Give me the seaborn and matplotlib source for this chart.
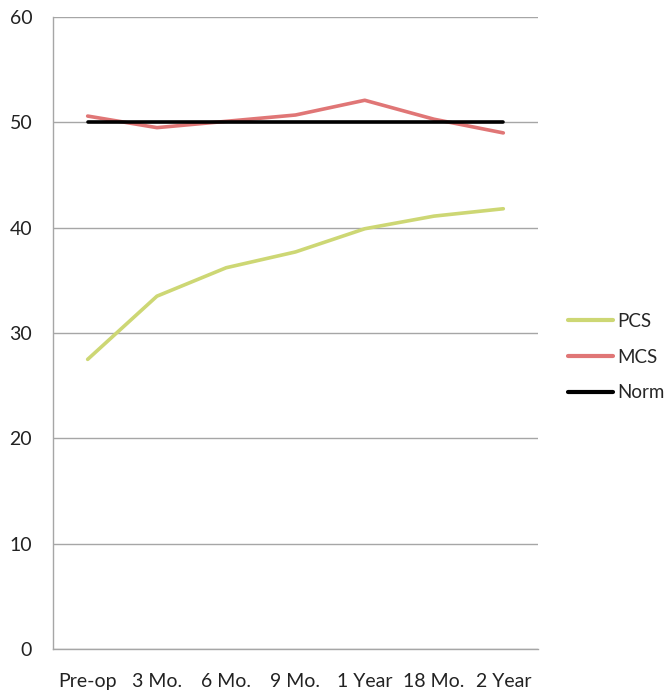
import matplotlib
matplotlib.use("Agg")
import matplotlib.pyplot as plt
import seaborn as sns
import pandas as pd
import numpy as np

# chart values
timepoints = ['Pre-op', '3 Mo.', '6 Mo.', '9 Mo.', '1 Year', '18 Mo.', '2 Year']
pcs = [27.5, 33.5, 36.2, 37.7, 39.9, 41.1, 41.8]
mcs = [50.6, 49.5, 50.1, 50.7, 52.1, 50.3, 49.0]
norm = [50, 50, 50, 50, 50, 50, 50]
series_names = ['PCS', 'MCS', 'Norm']
colors = {'PCS': '#cdd774', 'MCS': '#e07676', 'Norm': '#000000'}

df = pd.DataFrame({
    'time': timepoints * 3,
    'score': pcs + mcs + norm,
    'series': ['PCS'] * 7 + ['MCS'] * 7 + ['Norm'] * 7,
})
df['pos'] = df['time'].map({t: i for i, t in enumerate(timepoints)})

sns.set_style('white')
plt.rcParams['font.family'] = ['Lato', 'DejaVu Sans']

fig = plt.figure(figsize=(6.67, 6.96), dpi=100)
ax = fig.add_axes([0.0795, 0.0675, 0.727, 0.908])

sns.lineplot(data=df, x='pos', y='score', hue='series', hue_order=series_names,
             palette=colors, linewidth=2.6, ax=ax, legend=False)

ax.set_ylim(0, 60)
ax.set_xlim(-0.5, len(timepoints) - 0.5)
ax.set_yticks(range(0, 61, 10))
ax.yaxis.grid(True, color='#a6a6a6', linewidth=1)
ax.set_axisbelow(True)
ax.set_xticks(range(len(timepoints)))
ax.set_xticklabels(timepoints)
ax.set_xticks(np.arange(-0.5, len(timepoints)), minor=True)
ax.tick_params(axis='x', which='major', length=0, pad=17, labelsize=14, colors='#222222')
ax.tick_params(axis='x', which='minor', length=6, color='#a6a6a6', width=1)
ax.tick_params(axis='y', length=6, color='#a6a6a6', width=1, labelsize=14,
               colors='#222222', pad=9)
for s in ['top', 'right']:
    ax.spines[s].set_visible(False)
for s in ['left', 'bottom']:
    ax.spines[s].set_color('#a6a6a6')
    ax.spines[s].set_linewidth(1)
ax.set_xlabel('')
ax.set_ylabel('')

handles = [plt.Line2D([], [], color=colors[n], linewidth=3) for n in series_names]
fig.legend(handles, series_names, loc='center left', bbox_to_anchor=(0.851, 0.487),
           frameon=False, fontsize=13.5, handlelength=2.4, handletextpad=0.25,
           labelspacing=1.0, borderaxespad=0, borderpad=0)

fig.savefig('out.png', dpi=100)
